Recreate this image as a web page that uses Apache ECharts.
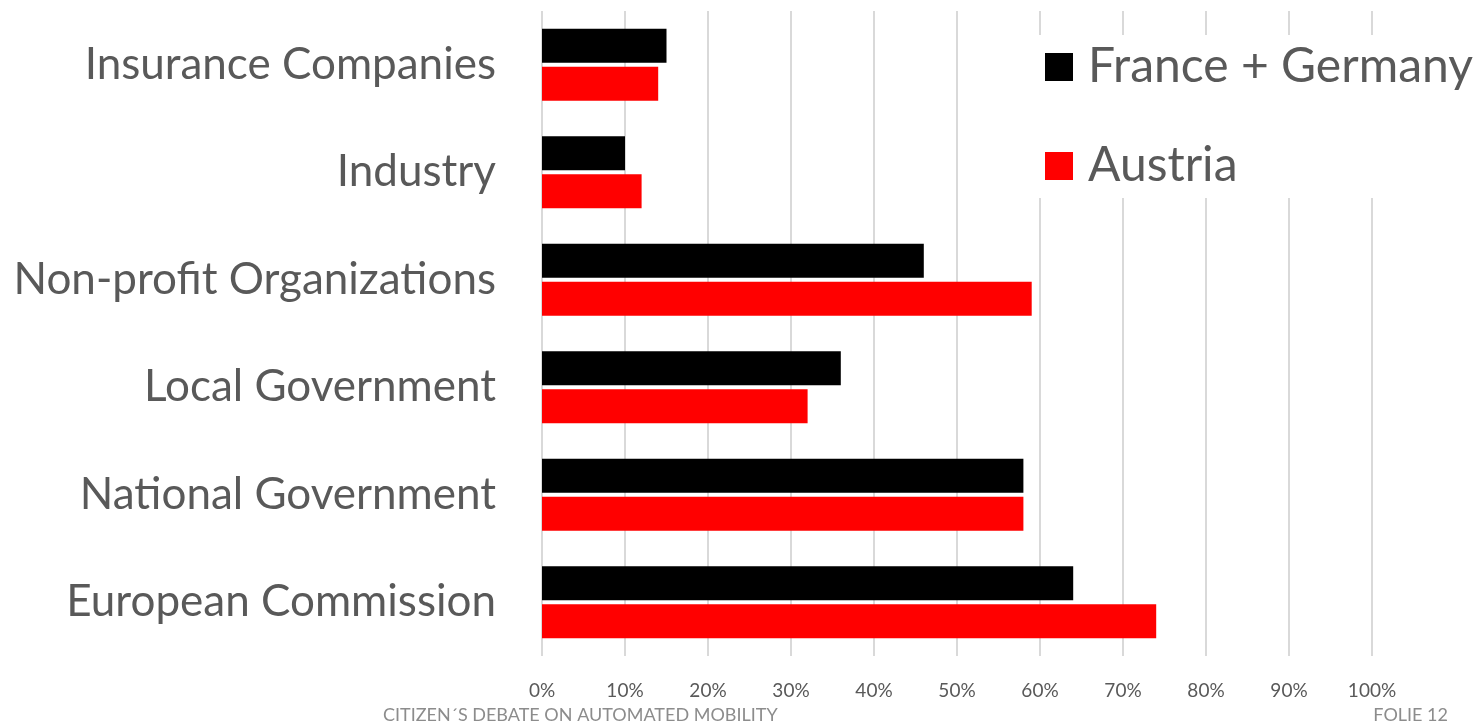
<!DOCTYPE html>
<html>
<head>
<meta charset="utf-8">
<script src="https://cdn.jsdelivr.net/npm/echarts@6/dist/echarts.min.js"></script>
<style>html,body{margin:0;padding:0;background:#fff;}#c{width:1483px;height:725px;}</style>
</head>
<body>
<div id="c"></div>
<script>
const categories = ["Insurance Companies", "Industry", "Non-profit Organizations", "Local Government", "National Government", "European Commission"];
const franceGermany = [15, 10, 46, 36, 58, 64];
const austria = [14, 12, 59, 32, 58, 74];
const xTicks = [0, 10, 20, 30, 40, 50, 60, 70, 80, 90, 100];
const seriesNames = ["France + Germany", "Austria"];
const footerLeft = "CITIZEN´S DEBATE ON AUTOMATED MOBILITY";
const footerRight = "FOLIE 12";

const chart = echarts.init(document.getElementById('c'));
chart.setOption({
  animation: false,
  backgroundColor: '#fff',
  textStyle: { fontFamily: 'Lato' },
  grid: { left: 542, right: 111, top: 11, bottom: 69, containLabel: false },
  legend: {
    orient: 'vertical',
    left: 1032, top: 35,
    data: seriesNames,
    icon: 'rect',
    itemWidth: 28, itemHeight: 28,
    itemGap: 51,
    backgroundColor: '#fff',
    padding: [8, 10, 8, 13],
    textStyle: { fontFamily: 'Lato', fontSize: 48, color: '#595959', padding: [0, 0, 0, 10] }
  },
  xAxis: {
    type: 'value', min: 0, max: 100, interval: 10,
    axisLine: { show: false }, axisTick: { show: false },
    splitLine: { lineStyle: { color: '#d9d9d9', width: 2 } },
    axisLabel: { formatter: v => v + '%', fontSize: 19, color: '#595959', margin: 25, fontFamily: 'Lato' }
  },
  yAxis: {
    type: 'category', data: categories, inverse: true,
    axisLine: { show: false }, axisTick: { show: false },
    axisLabel: { fontSize: 44, color: '#595959', margin: 46, fontFamily: 'Lato' }
  },
  series: [
    { name: seriesNames[0], type: 'bar', data: franceGermany, barWidth: 34, barGap: '12%',
      itemStyle: { color: '#000000' } },
    { name: seriesNames[1], type: 'bar', data: austria, barWidth: 34, barGap: '12%',
      itemStyle: { color: '#ff0000' } }
  ],
  graphic: [
    { type: 'text', left: 383, top: 706, style: { text: footerLeft, font: '18px Lato', fill: '#8c8c8c' } },
    { type: 'text', right: 35, top: 706, style: { text: footerRight, font: '18px Lato', fill: '#8c8c8c' } }
  ]
});
</script>
</body>
</html>
